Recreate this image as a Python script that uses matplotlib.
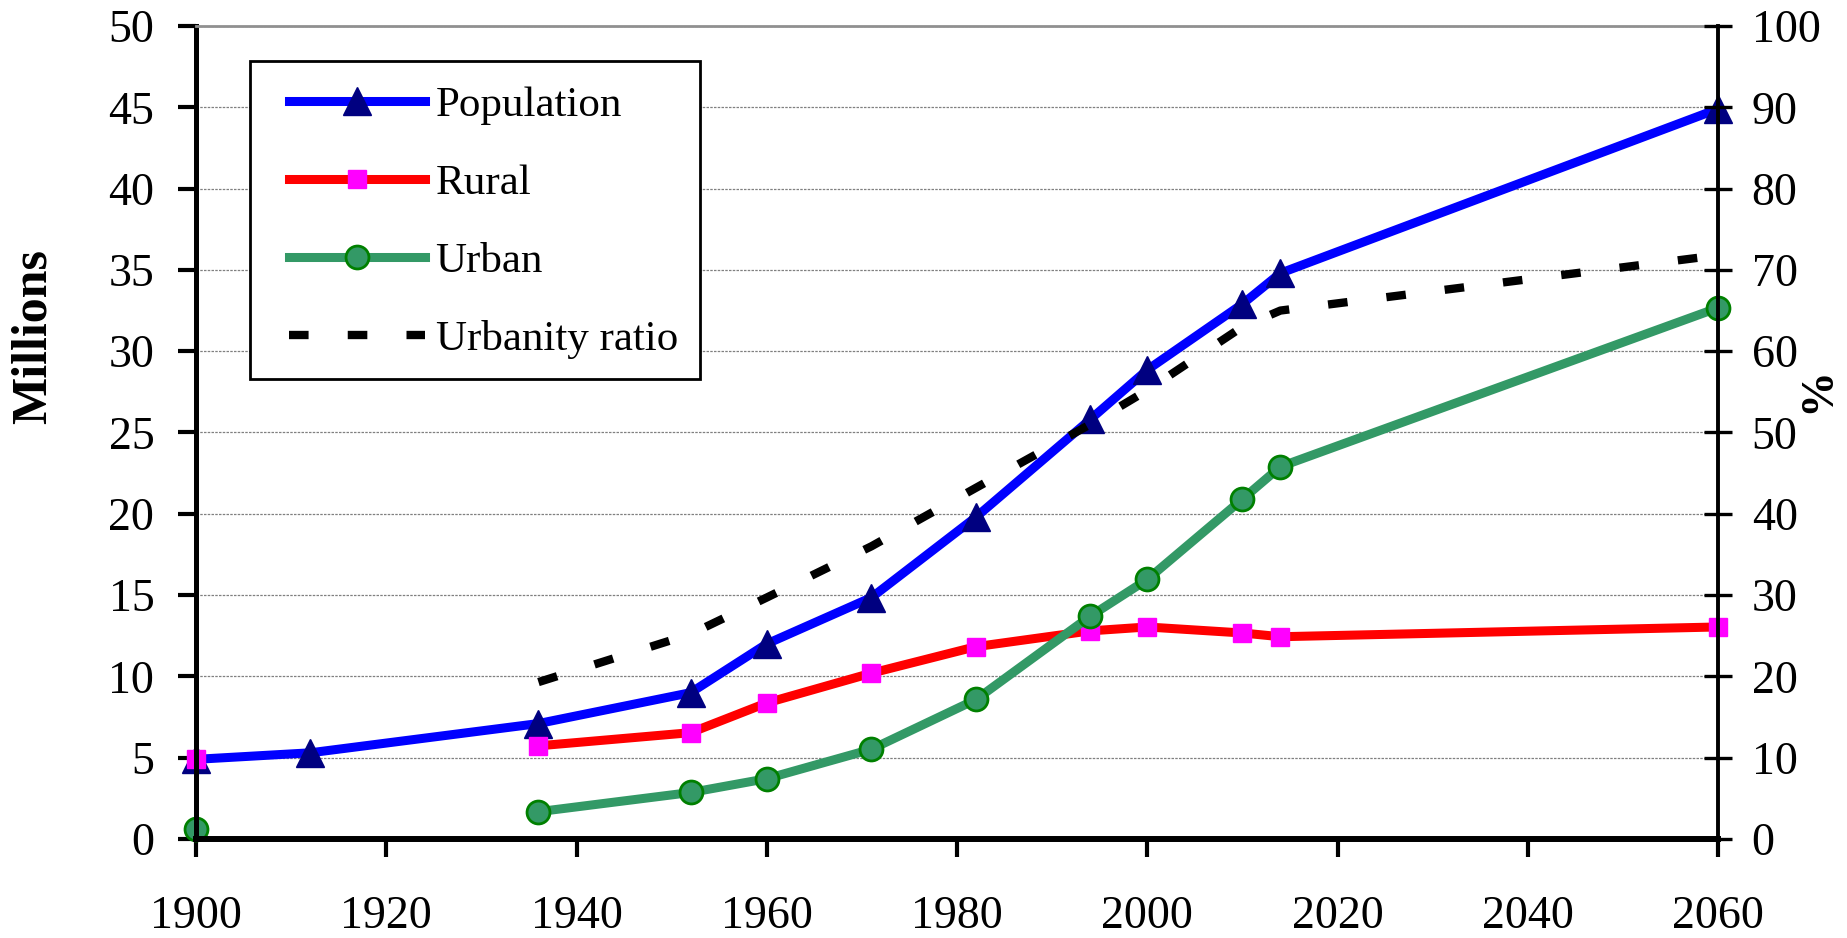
import numpy as np
import matplotlib
matplotlib.use("Agg")
import matplotlib.pyplot as plt
from matplotlib.patches import Rectangle

plt.rcParams['font.family'] = ['Liberation Serif', 'DejaVu Serif']

# data (nan = no value, gap in the line)
years = [1900, 1912, 1936, 1952, 1960, 1971, 1982, 1994, 2000, 2010, 2014, 2060]
population = [4.9, 5.3, 7.1, 9.0, 12.0, 14.85, 19.8, 25.8, 28.85, 32.9, 34.8, 44.9]
rural = [4.9, np.nan, 5.73, 6.54, 8.37, 10.2, 11.83, 12.8, 13.04, 12.67, 12.44, 13.04]
urban = [0.63, np.nan, 1.68, 2.86, 3.71, 5.52, 8.58, 13.7, 15.96, 20.9, 22.9, 32.67]
ratio_years = [1936, 1952, 1960, 1971, 1982, 1994, 2000, 2010, 2014, 2060]
ratio = [19.3, 25.2, 29.7, 36.0, 43.2, 51.0, 55.2, 63.0, 65.0, 71.8]

left_ticks = np.arange(0, 51, 5)
right_ticks = np.arange(0, 101, 10)
x_ticks = np.arange(1900, 2061, 20)

W, H = 1847, 938
fig = plt.figure(figsize=(W / 100, H / 100), dpi=100)
ax = fig.add_axes([196 / W, 1 - 839 / H, 1522 / W, 813 / H])
ax2 = ax.twinx()

l1, = ax.plot(years, population, color='#0000FF', lw=6.5, marker='^', ms=20,
              mfc='#000080', mec='#000080', label='Population', clip_on=False)
l2, = ax.plot(years, rural, color='#FF0000', lw=6.5, marker='s', ms=13.5,
              mfc='#FF00FF', mec='#FF00FF', label='Rural', clip_on=False)
l3, = ax.plot(years, urban, color='#339966', lw=6.5, marker='o', ms=16.5,
              mfc='#339966', mec='#008000', mew=2, label='Urban', clip_on=False)
l4, = ax2.plot(ratio_years, ratio, color='black', lw=6, dashes=(2.35, 4.7),
               label='Urbanity ratio')

ax.set_xlim(1900, 2060)
ax.set_ylim(0, 50)
ax2.set_ylim(0, 100)
ax.set_xticks(x_ticks)
ax.set_yticks(left_ticks)
ax2.set_yticks(right_ticks)

ax.yaxis.grid(True, color='#808080', lw=0.9, ls=(0, (2, 1)))
ax.set_axisbelow(True)

ax.spines['right'].set_visible(False)
ax.spines['top'].set_color('#909090')
ax.spines['top'].set_linewidth(2)
ax.spines['left'].set_linewidth(3.6)
ax.spines['bottom'].set_linewidth(4.3)
for s in ['left', 'bottom', 'top']:
    ax2.spines[s].set_visible(False)
ax2.spines['right'].set_linewidth(2.8)

ax.tick_params(axis='y', direction='out', length=13, width=3, pad=17, labelsize=33)
ax.tick_params(axis='x', direction='out', length=13, width=3, pad=28, labelsize=33)
ax2.tick_params(axis='y', direction='inout', length=19.5, width=2.4, pad=14.5, labelsize=33)

fig.text(34 / W, 1 - 336 / H, 'Millions', rotation=90, ha='center', va='center',
         fontsize=36, fontweight='bold')
fig.text(1818 / W, 1 - 390 / H, '%', rotation=90, ha='center', va='center',
         fontsize=33, fontweight='bold')

# legend box drawn by hand, legend itself frameless
box = Rectangle((250 / W, 1 - 379 / H), 450 / W, 318 / H, transform=fig.transFigure,
                facecolor='white', edgecolor='black', lw=2, zorder=4, clip_on=False)
ax2.add_patch(box)
ax2.legend([l1, l2, l3, l4], ['Population', 'Rural', 'Urban', 'Urbanity ratio'],
           loc='upper left', bbox_to_anchor=(272 / W, 1 - 69 / H),
           bbox_transform=fig.transFigure, frameon=False, fontsize=31,
           handlelength=3.15, handletextpad=0.25, labelspacing=0.9,
           borderpad=0.4, borderaxespad=0, numpoints=1)

fig.savefig('out.png', dpi=100)
